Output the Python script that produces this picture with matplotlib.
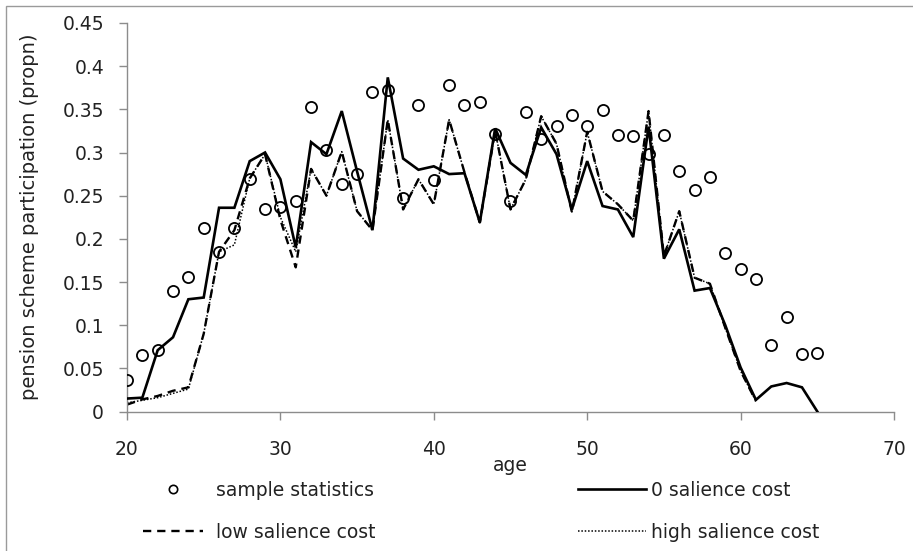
import matplotlib
matplotlib.use("Agg")
import matplotlib.pyplot as plt
from matplotlib.lines import Line2D
from matplotlib.patches import Rectangle

# ---- data ----
ages = list(range(20, 66))
sample_stats = [0.036, 0.065, 0.071, 0.139, 0.156, 0.213, 0.185, 0.212, 0.269, 0.235,
                0.237, 0.244, 0.353, 0.303, 0.263, 0.275, 0.370, 0.372, 0.247, 0.355,
                0.268, 0.378, 0.355, 0.358, 0.321, 0.244, 0.347, 0.316, 0.331, 0.344,
                0.331, 0.349, 0.320, 0.319, 0.298, 0.320, 0.278, 0.257, 0.272, 0.184,
                0.165, 0.154, 0.077, 0.109, 0.067, 0.068]
zero_cost = [0.015, 0.016, 0.071, 0.086, 0.130, 0.132, 0.236, 0.236, 0.290, 0.300,
             0.269, 0.190, 0.312, 0.298, 0.348, 0.278, 0.210, 0.387, 0.293, 0.280,
             0.284, 0.275, 0.276, 0.219, 0.328, 0.288, 0.274, 0.329, 0.298, 0.234,
             0.290, 0.238, 0.234, 0.202, 0.330, 0.177, 0.211, 0.140, 0.143, 0.100,
             0.051, 0.0135, 0.029, 0.033, 0.028, 0.0]
ages_sim = list(range(20, 62))
low_cost = [0.008, 0.014, 0.018, 0.024, 0.028, 0.090, 0.185, 0.210, 0.270, 0.298,
            0.222, 0.167, 0.281, 0.250, 0.301, 0.232, 0.210, 0.338, 0.234, 0.269,
            0.240, 0.338, 0.277, 0.219, 0.325, 0.234, 0.269, 0.342, 0.310, 0.231,
            0.324, 0.255, 0.240, 0.221, 0.348, 0.180, 0.232, 0.155, 0.148, 0.097,
            0.047, 0.012]
high_cost = [0.010, 0.013, 0.016, 0.021, 0.026, 0.090, 0.185, 0.193, 0.270, 0.298,
             0.225, 0.185, 0.281, 0.250, 0.301, 0.232, 0.210, 0.338, 0.234, 0.269,
             0.240, 0.338, 0.277, 0.219, 0.325, 0.234, 0.269, 0.342, 0.310, 0.231,
             0.324, 0.255, 0.240, 0.221, 0.348, 0.180, 0.232, 0.155, 0.148, 0.097,
             0.047, 0.012]
x_ticks = [20, 30, 40, 50, 60, 70]
y_ticks = [0, 0.05, 0.1, 0.15, 0.2, 0.25, 0.3, 0.35, 0.4, 0.45]
y_tick_labels = ["0", "0.05", "0.1", "0.15", "0.2", "0.25", "0.3", "0.35", "0.4", "0.45"]

plt.rcParams['font.family'] = ['DejaVu Sans']
FS = 13.5
TXT = '#222222'
AXC = '#8c8c8c'

fig = plt.figure(figsize=(9.13, 5.51), dpi=100)
W, H = 913, 551
ax = fig.add_axes([127 / W, 1 - 411.5 / H, (894 - 127) / W, (411.5 - 23) / H])

# outer chart-area frame
fig.patches.append(Rectangle((5.5 / W, -0.2), 1.2, 1.2 - 5.5 / H, transform=fig.transFigure,
                             fill=False, edgecolor='#9a9a9a', linewidth=1.0))

ax.plot(ages_sim, high_cost, color='black', lw=1.1, linestyle=(0, (1, 1.2)), zorder=2)
ax.plot(ages_sim, low_cost, color='black', lw=1.7, linestyle=(0, (3.5, 2.5)), zorder=2)
ax.plot(ages, zero_cost, color='black', lw=1.9, solid_joinstyle='miter', zorder=3)
ax.plot(ages, sample_stats, linestyle='none', marker='o', markersize=8,
        markerfacecolor='none', markeredgecolor='black', markeredgewidth=1.3, zorder=4)

ax.set_xlim(20, 70)
ax.set_ylim(0, 0.45)
ax.set_xticks(x_ticks)
ax.set_yticks(y_ticks)
ax.set_yticklabels(y_tick_labels)
for s in ['top', 'right']:
    ax.spines[s].set_visible(False)
for s in ['left', 'bottom']:
    ax.spines[s].set_color(AXC)
    ax.spines[s].set_linewidth(1.0)
ax.tick_params(axis='both', direction='out', length=5.5, width=1.0, color=AXC,
               labelsize=FS, labelcolor=TXT)
ax.tick_params(axis='y', pad=11)
ax.tick_params(axis='x', pad=15)

ax.set_xlabel('age', fontsize=FS, color=TXT)
ax.xaxis.set_label_coords(0.5, (411.5 - 456) / 388.5)
ax.set_ylabel('pension scheme participation (propn)', fontsize=FS + 0.5, color=TXT, labelpad=17)

# legend (two columns built as two legends)
h_sample = Line2D([], [], linestyle='none', marker='o', markersize=6, markerfacecolor='none',
                  markeredgecolor='black', markeredgewidth=1.2)
h_low = Line2D([], [], color='black', lw=1.7, linestyle=(0, (3.5, 2.5)))
h_zero = Line2D([], [], color='black', lw=1.9)
h_high = Line2D([], [], color='black', lw=1.1, linestyle=(0, (1, 1.2)))

leg1 = fig.legend([h_sample, h_low], ['sample statistics', 'low salience cost'],
                  loc='upper left', bbox_to_anchor=(143 / W, 1 - 481 / H),
                  frameon=False, fontsize=FS, handlelength=3.2, handletextpad=0.7,
                  borderpad=0, borderaxespad=0, labelspacing=1.22, labelcolor=TXT)
leg2 = fig.legend([h_zero, h_high], ['0 salience cost', 'high salience cost'],
                  loc='upper left', bbox_to_anchor=(578 / W, 1 - 481 / H),
                  frameon=False, fontsize=FS, handlelength=3.6, handletextpad=0.3,
                  borderpad=0, borderaxespad=0, labelspacing=1.22, labelcolor=TXT)

fig.savefig('out.png', dpi=100)
